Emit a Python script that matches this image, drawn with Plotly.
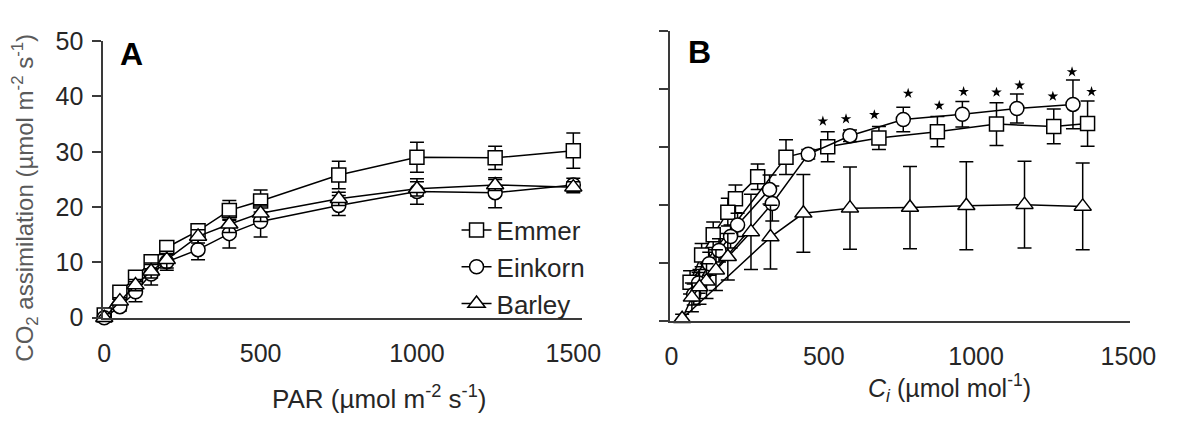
import plotly.graph_objects as go

W, H = 1189, 428

# ---------- Panel A: light response ----------
par = [0, 50, 100, 150, 200, 300, 400, 500, 750, 1000, 1250, 1500]
emmer_a = [0.5, 4.6, 7.3, 10.1, 12.7, 15.7, 19.4, 21.1, 25.8, 29.0, 28.9, 30.2]
emmer_a_err = [0.3, 0.8, 1.0, 0.8, 1.0, 1.0, 1.8, 2.0, 2.5, 2.7, 2.1, 3.2]
einkorn_a = [0.0, 2.0, 4.7, 7.9, 10.1, 12.3, 15.2, 17.4, 20.3, 22.8, 22.6, 24.0]
einkorn_a_err = [0.2, 0.8, 1.8, 2.0, 1.5, 1.8, 2.6, 2.8, 1.8, 2.3, 2.7, 1.2]
barley_a = [0.0, 3.0, 5.9, 8.4, 10.5, 14.7, 16.9, 18.9, 21.5, 23.3, 24.0, 23.6]
barley_a_err = [0.2, 0.6, 1.0, 1.2, 1.5, 1.2, 1.5, 1.5, 1.2, 1.3, 1.0, 1.0]

# ---------- Panel B: CO2 response (measurement order) ----------
emmer_ci = [283, 210, 185, 137, 99, 61, 376, 513, 681, 873, 1067, 1255, 1366]
emmer_b = [24.8, 21.0, 18.7, 14.8, 11.3, 6.6, 28.2, 30.0, 31.5, 32.6, 33.9, 33.5, 34.0]
emmer_b_err = [2.2, 2.4, 2.4, 2.2, 2.0, 2.0, 3.0, 2.6, 2.0, 2.6, 3.7, 3.0, 3.9]
einkorn_ci = [322, 217, 194, 156, 124, 89, 73, 331, 449, 586, 761, 955, 1134, 1318]
einkorn_b = [22.6, 16.5, 14.5, 12.1, 9.8, 6.5, 4.5, 20.2, 28.7, 31.9, 34.7, 35.6, 36.6, 37.3]
einkorn_b_err = [2.5, 2.0, 2.0, 2.0, 2.0, 1.8, 1.8, 3.0, 0.8, 1.0, 2.1, 2.2, 2.5, 4.2]
barley_ci = [261, 185, 146, 115, 92, 67, 35, 325, 433, 586, 783, 968, 1159, 1350]
barley_b = [15.3, 11.0, 8.7, 6.8, 5.8, 4.0, 0.3, 14.4, 18.5, 19.4, 19.5, 19.8, 20.0, 19.7]
barley_b_err = [6.5, 4.0, 3.5, 3.0, 3.0, 2.5, 0.8, 5.5, 6.7, 7.1, 7.1, 7.6, 7.5, 7.5]

# significance stars (Ci, A)
star_ci = [497, 573, 666, 777, 879, 959, 1067, 1143, 1252, 1315, 1379]
star_y = [34.4, 34.8, 35.5, 39.2, 37.1, 39.5, 39.4, 40.6, 38.7, 42.9, 39.5]

x_ticks = [0, 500, 1000, 1500]
y_ticks = [0, 10, 20, 30, 40, 50]

series = [
    ("Emmer", "square", 14, emmer_a, emmer_a_err, emmer_ci, emmer_b, emmer_b_err),
    ("Einkorn", "circle", 14, einkorn_a, einkorn_a_err, einkorn_ci, einkorn_b, einkorn_b_err),
    ("Barley", "triangle-up", 15, barley_a, barley_a_err, barley_ci, barley_b, barley_b_err),
]

fig = go.Figure()
LINE = dict(color="black", width=1.5)
for name, sym, size, ya, ea, cib, yb, eb in series:
    mk = dict(symbol=sym, size=size, color="white", line=dict(color="black", width=1.5))
    eb_style = dict(type="data", visible=True, color="black", thickness=1.5, width=7)
    fig.add_trace(go.Scatter(
        x=par, y=ya, mode="lines+markers", name=name, line=LINE, marker=mk,
        error_y=dict(array=ea, **eb_style), cliponaxis=False,
        xaxis="x", yaxis="y", showlegend=True))
    fig.add_trace(go.Scatter(
        x=cib, y=yb, mode="lines+markers", name=name, line=LINE, marker=mk,
        error_y=dict(array=eb, **eb_style), cliponaxis=False,
        xaxis="x2", yaxis="y2", showlegend=False))

fig.add_trace(go.Scatter(
    x=star_ci, y=star_y, mode="markers", showlegend=False,
    marker=dict(symbol="star", size=8, color="black"),
    xaxis="x2", yaxis="y2", cliponaxis=False))

FONT = "Arial, Liberation Sans, sans-serif"
AX = "#3a3a3a"
TXT = "#262626"
common_x = dict(showline=True, linecolor=AX, linewidth=2, ticks="", showgrid=False,
                zeroline=False, tickvals=x_ticks,
                tickfont=dict(family=FONT, size=25, color=TXT), ticklabelstandoff=12)
common_y = dict(showline=True, linecolor=AX, linewidth=2, ticks="outside", ticklen=9,
                tickwidth=2, tickcolor=AX, showgrid=False, zeroline=False,
                range=[0, 50], tickvals=y_ticks,
                tickfont=dict(family=FONT, size=25, color=TXT), ticklabelstandoff=4)

def ann(text, x, y, size, color=TXT, angle=0):
    return dict(text=text, x=x / W, y=(H - y) / H, xref="paper", yref="paper",
                xanchor="center", yanchor="middle", textangle=angle, showarrow=False,
                font=dict(family=FONT, size=size, color=color))

fig.update_layout(
    width=W, height=H,
    margin=dict(l=0, r=0, t=0, b=0),
    paper_bgcolor="white", plot_bgcolor="white",
    font=dict(family=FONT, color=TXT),
    xaxis=dict(domain=[100 / W, 592 / W], range=[-3, 1528], anchor="y", **common_x),
    yaxis=dict(domain=[103 / H, 399 / H], anchor="x", showticklabels=True, **common_y),
    xaxis2=dict(domain=[682 / W, 1155 / W], range=[-6, 1505], anchor="y2", **common_x),
    yaxis2=dict(domain=[100 / H, 410 / H], anchor="x2", showticklabels=False, **common_y),
    legend=dict(x=463 / W, y=(H - 206) / H, xanchor="left", yanchor="top",
                bgcolor="rgba(0,0,0,0)", font=dict(family=FONT, size=26, color=TXT),
                tracegroupgap=0),
    annotations=[
        ann("<b>A</b>", 129, 43, 32, "black"),
        ann("<b>B</b>", 713, 41, 32, "black"),
        ann("CO<sub>2</sub> assimilation (µmol m<sup>-2</sup> s<sup>-1</sup>)",
            20, 196, 24, "#5a5a5a", -90),
        ann("PAR (µmol m<sup>-2</sup> s<sup>-1</sup>)", 383, 410, 26),
        ann("<i>C</i><sub><i>i</i></sub> (µmol mol<sup>-1</sup>)", 970, 400, 25),
    ],
)

fig.write_html("out.html")
